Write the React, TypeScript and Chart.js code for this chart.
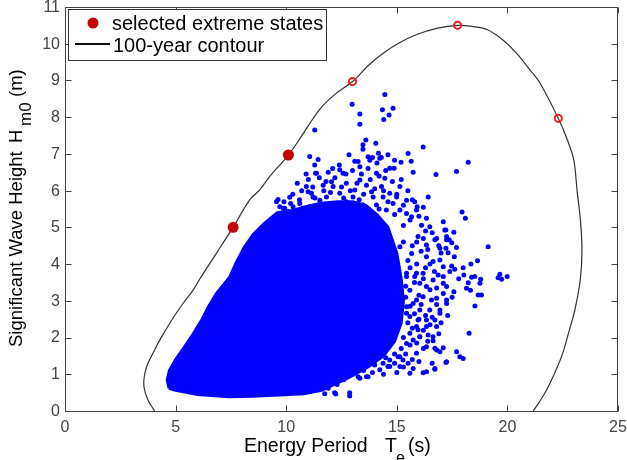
import { useEffect, useRef } from 'react';
import { Chart, registerables } from 'chart.js';

Chart.register(...registerables);

// 100-year environmental contour (energy period T_e vs significant wave height H_m0)
const contourT = [4.05, 3.75, 3.57, 3.6, 3.75, 4.0, 4.3, 4.8, 5.3, 5.8, 6.1, 6.85, 7.6, 8.35, 8.8, 9.25, 10.1, 10.6, 11.5, 12.2, 13.0, 13.7, 14.4, 15.1, 15.9, 16.8, 17.75, 18.4, 19.1, 19.8, 20.4, 21.0, 21.47, 22.3, 22.7, 23.0, 23.15, 23.3, 23.37, 23.3, 23.05, 22.8, 22.5, 22.15, 21.77, 21.45, 21.17];
const contourH = [0, 0.3, 0.66, 1.0, 1.3, 1.6, 1.95, 2.45, 2.9, 3.3, 3.6, 4.3, 5.0, 5.75, 6.02, 6.38, 6.97, 7.4, 8.2, 8.62, 8.97, 9.4, 9.75, 10.02, 10.25, 10.42, 10.5, 10.47, 10.38, 10.1, 9.75, 9.3, 8.93, 7.97, 7.4, 6.84, 6.0, 5.2, 4.4, 3.6, 2.75, 2.2, 1.57, 1.05, 0.57, 0.25, 0];

// Selected extreme states (filled) and remaining contour design points (open)
const selectedT = [7.6, 10.1];
const selectedH = [5.0, 6.97];
const candidateT = [13.0, 17.75, 22.3];
const candidateH = [8.97, 10.5, 7.97];

// Outline of the densely populated part of the hindcast sea states
const coreT = [4.7, 4.62, 4.72, 5.0, 5.35, 5.8, 6.2, 6.5, 6.85, 7.45, 7.75, 8.1, 8.5, 9.0, 9.6, 10.2, 10.8, 11.5, 12.3, 13.0, 13.6, 14.1, 14.6, 15.0, 15.2, 15.3, 15.2, 14.9, 14.4, 13.7, 12.8, 11.6, 10.8, 9.9, 8.5, 7.4, 6.0, 5.3, 4.95, 4.7];
const coreH = [0.62, 0.85, 1.1, 1.4, 1.7, 2.1, 2.5, 2.85, 3.2, 3.65, 4.05, 4.45, 4.8, 5.1, 5.4, 5.45, 5.55, 5.65, 5.7, 5.7, 5.6, 5.35, 5.0, 4.3, 3.6, 3.0, 2.4, 1.9, 1.5, 1.2, 0.9, 0.56, 0.47, 0.44, 0.4, 0.39, 0.45, 0.53, 0.57, 0.62];

// Individual sea states around the edge of the dense region
const stateT = [
  14.46, 12.98, 14.35, 14.83, 13.33, 14.65, 14.41, 13.33, 11.29, 16.19, 13.6, 13.47, 13.47, 14.05, 18.23, 17.7, 16.77, 17.95, 18.1, 15.51,
  15.65, 11.06, 11.44, 11.29, 12.84, 13.25, 13.33, 13.7, 13.78, 14.17, 14.23, 14.6, 14.9, 15.19, 14.88, 15.74, 15.81, 15.92, 17.1, 12.42,
  12.57, 11.33, 14.08, 14.68, 14.46, 16.42, 10.99, 10.76, 11.67, 12.05, 13.1, 13.86, 14.31, 15.14, 14.99, 15.44, 15.89, 17.17, 16.34, 16.49,
  15.67, 16.12, 15.96, 16.8, 17.25, 16.34, 16.95, 15.14, 15.67, 16.34, 16.64, 17.1, 15.44, 15.81, 17.1, 17.22, 17.58, 17.25, 17.37, 17.48,
  19.13, 17.22, 17.32, 18.65, 18.35, 17.48, 17.62, 19.66, 19.99, 19.58, 18.03, 18.38, 18.53, 18.79, 18.76, 18.23, 18.15, 17.1, 19.74, 18.33,
  18.83, 18.68, 18.53, 18.27, 17.58, 17.25, 17.1, 17.25, 16.8, 16.95, 16.72, 16.8, 16.34, 16.42, 16.64, 16.04, 16.72, 17.1, 16.95, 17.7,
  17.85, 18.0, 17.22, 16.72, 16.34, 16.19, 15.59, 15.74, 15.28, 15.51, 15.06, 14.6, 14.23, 13.7, 13.33, 12.87, 12.19, 11.74, 15.96, 15.96,
  15.74, 15.59, 15.44, 15.89, 16.49, 16.57, 16.34, 16.64, 16.19, 16.95, 16.72, 16.87, 17.25, 16.95, 16.64, 16.34, 16.8, 17.25, 16.72, 15.14,
  14.68, 13.63, 13.25, 12.24, 12.87, 9.63, 10.16, 9.86, 10.08, 9.71, 9.1, 8.95, 8.65, 8.35, 8.12, 8.8, 10.91, 11.14, 11.37, 9.56,
  9.71, 9.93, 10.16, 10.31, 10.61, 10.84, 11.29, 12.12, 12.42, 12.72, 13.02, 13.33, 13.63, 13.93, 14.38, 14.68, 14.83, 15.14, 15.44, 14.53,
  14.08, 13.47, 12.72, 12.27, 11.82, 11.52, 11.21, 11.06, 15.44, 15.89, 16.04, 15.59, 16.19, 15.74, 16.04, 15.44, 16.34, 15.89, 15.59, 16.04,
  15.44, 15.89, 15.14, 14.68, 14.38,
  10.3, 10.5, 10.7, 11.0, 11.2, 11.5, 11.7, 11.9, 12.0, 12.2, 12.4, 12.5, 12.7, 12.9, 13.0, 13.2, 13.4, 13.5, 13.7, 13.8,
  14.0, 14.1, 14.2, 14.4, 14.5, 14.6, 14.8, 15.0, 15.2, 15.3, 15.5, 15.6, 15.7, 16.0, 16.2, 16.3, 10.6, 11.3, 12.6, 13.3,
  14.2, 14.9, 15.3, 11.8, 12.1, 13.1, 13.9, 10.9, 14.3, 9.9, 10.2, 10.4,
  15.3, 15.5, 15.7, 15.9, 16.1, 16.3, 15.4, 15.6, 15.8, 16.0, 16.2, 16.5, 16.7, 15.4, 15.6, 15.8, 16.1, 16.3, 16.6, 16.8,
  15.5, 15.7, 16.0, 16.2, 16.5, 15.3, 15.6, 15.9, 16.2, 16.4, 15.2, 15.4, 15.7, 16.0, 14.9, 14.5, 14.9, 14.0, 13.5, 13.0,
  12.6, 12.3, 11.9, 13.9, 14.4, 15.3, 15.0, 16.6, 16.9, 17.0, 17.3, 17.4, 17.6, 16.8, 16.5, 16.9, 16.2, 16.6, 17.0, 17.7,
  17.8, 17.5, 18.0, 15.9, 16.4,
];
const stateH = [
  8.62, 8.35, 8.2, 8.24, 8.09, 8.06, 7.94, 7.81, 7.65, 7.19, 7.38, 7.25, 7.13, 7.29, 6.77, 6.52, 6.44, 5.42, 5.25, 7.01,
  6.8, 6.93, 6.85, 6.7, 6.98, 6.79, 6.65, 6.92, 6.83, 7.02, 6.88, 6.98, 6.83, 6.77, 6.61, 6.5, 5.7, 5.56, 5.15, 6.57,
  6.47, 6.47, 6.47, 6.61, 6.34, 5.83, 5.97, 5.52, 6.15, 6.24, 6.02, 5.97, 6.11, 6.11, 5.83, 5.74, 5.47, 4.93, 5.25, 5.02,
  5.29, 5.06, 4.75, 4.7, 4.66, 4.52, 4.43, 4.47, 4.29, 4.2, 4.07, 3.93, 3.75, 3.66, 3.66, 4.93, 4.87, 4.75, 4.66, 4.58,
  4.47, 4.43, 4.31, 4.09, 4.0, 3.95, 3.86, 3.72, 3.66, 3.63, 3.7, 3.64, 3.66, 3.59, 3.48, 3.49, 3.34, 3.48, 3.59, 3.29,
  3.16, 3.16, 2.86, 2.12, 3.25, 3.39, 3.2, 3.02, 3.07, 2.75, 2.48, 2.3, 2.3, 2.07, 1.91, 2.02, 1.71, 1.72, 1.61, 1.61,
  1.48, 1.43, 1.32, 1.16, 1.07, 1.04, 1.03, 1.16, 1.39, 1.3, 1.48, 1.21, 1.12, 0.93, 0.89, 0.5, 0.5, 0.47, 2.48, 2.21,
  1.93, 2.57, 2.84, 3.02, 2.75, 3.02, 3.39, 3.57, 3.75, 4.11, 4.66, 3.7, 2.93, 2.66, 2.02, 1.75, 1.66, 1.34, 1.14, 1.21,
  1.21, 0.93, 0.93, 0.46, 0.41, 5.76, 5.82, 5.52, 5.43, 5.34, 5.02, 4.84, 4.66, 4.29, 4.16, 4.47, 6.11, 5.93, 6.47, 5.7,
  5.56, 5.52, 5.38, 5.56, 5.65, 5.38, 5.47, 6.11, 5.93, 6.2, 5.83, 6.29, 6.15, 5.83, 5.83, 5.93, 5.65, 5.47, 5.38, 5.47,
  5.61, 5.61, 5.7, 5.65, 5.83, 5.74, 5.83, 5.56, 3.66, 3.75, 3.48, 3.29, 3.11, 2.93, 2.75, 2.66, 2.48, 2.3, 2.12, 2.02,
  1.84, 1.57, 1.48, 1.39, 1.3,
  5.9, 6.2, 6.0, 6.3, 6.1, 6.35, 6.0, 6.5, 5.95, 6.35, 6.7, 6.1, 6.45, 6.0, 6.55, 6.2, 6.45, 5.9, 6.6, 6.3,
  6.05, 6.75, 6.4, 6.0, 6.55, 5.7, 6.25, 5.9, 6.3, 5.6, 6.0, 5.2, 5.75, 5.3, 5.55, 4.9, 5.75, 5.8, 5.8, 5.75,
  5.5, 5.35, 5.05, 6.25, 6.6, 6.8, 6.9, 6.45, 6.9, 5.7, 5.65, 5.45,
  4.6, 4.1, 4.5, 4.0, 4.35, 3.9, 3.4, 3.9, 3.5, 3.15, 3.6, 3.3, 3.8, 3.1, 2.85, 2.65, 2.9, 2.6, 2.55, 2.9,
  2.4, 2.25, 2.5, 2.2, 2.35, 2.0, 1.8, 1.85, 1.7, 1.9, 1.7, 1.55, 1.4, 1.35, 1.55, 1.45, 1.3, 1.25, 1.1, 1.0,
  0.85, 0.72, 0.62, 1.05, 1.0, 1.2, 1.05, 1.3, 2.1, 2.4, 2.6, 3.8, 4.2, 3.35, 4.0, 4.5, 4.7, 4.85, 4.3, 4.45,
  3.6, 3.1, 3.9, 4.6, 4.4,
];

const xTicks = [0, 5, 10, 15, 20, 25];
const yTicks = [0, 1, 2, 3, 4, 5, 6, 7, 8, 9, 10, 11];

const FONT = '"Liberation Sans", Arial, Helvetica, sans-serif';
const pairs = (xs: number[], ys: number[]) => xs.map((x, i) => ({ x, y: ys[i] }));

// Box, inward tick marks, tick labels, axis titles and legend in the usual MATLAB style
const decorations = {
  id: 'decorations',
  afterDraw(chart: any) {
    const { ctx, chartArea: a, scales } = chart;
    const L = Math.round(a.left) + 0.5;
    const R = Math.round(a.right) - 0.5;
    const T = Math.round(a.top) + 0.5;
    const B = Math.round(a.bottom) + 0.5;
    ctx.save();
    ctx.strokeStyle = '#444';
    ctx.lineWidth = 1;
    ctx.strokeRect(L, T, R - L, B - T);
    const tl = 6;
    ctx.beginPath();
    xTicks.forEach((v) => {
      const px = Math.round(scales.x.getPixelForValue(v)) + 0.5;
      ctx.moveTo(px, B); ctx.lineTo(px, B - tl);
      ctx.moveTo(px, T); ctx.lineTo(px, T + tl);
    });
    yTicks.forEach((v) => {
      const py = Math.round(scales.y.getPixelForValue(v)) + 0.5;
      ctx.moveTo(L, py); ctx.lineTo(L + tl, py);
      ctx.moveTo(R, py); ctx.lineTo(R - tl, py);
    });
    ctx.stroke();

    // tick labels
    ctx.fillStyle = '#444';
    ctx.font = `16px ${FONT}`;
    ctx.textAlign = 'center';
    ctx.textBaseline = 'alphabetic';
    xTicks.forEach((v) => {
      ctx.fillText(String(v), scales.x.getPixelForValue(v), 432);
    });
    ctx.textAlign = 'right';
    ctx.textBaseline = 'middle';
    yTicks.forEach((v) => {
      ctx.fillText(String(v), 60, scales.y.getPixelForValue(v) + 0.5);
    });

    // x-axis title
    ctx.fillStyle = '#000';
    ctx.textBaseline = 'alphabetic';
    ctx.textAlign = 'left';
    ctx.font = `19.5px ${FONT}`;
    ctx.fillText('Energy Period', 244, 452);
    ctx.fillText('T', 385, 452);
    ctx.fillText('(s)', 408, 452);
    ctx.font = `16px ${FONT}`;
    ctx.fillText('e', 396, 463);

    // y-axis title
    ctx.save();
    ctx.translate(21.5, 0);
    ctx.rotate(-Math.PI / 2);
    ctx.font = `18.5px ${FONT}`;
    ctx.fillText('Significant Wave Height', -347, 0);
    ctx.fillText('H', -143, 0);
    ctx.fillText('(m)', -97, 0);
    ctx.font = `17px ${FONT}`;
    ctx.fillText('m0', -126, 9);
    ctx.restore();

    // legend
    ctx.fillStyle = '#fff';
    ctx.fillRect(68.5, 9.5, 258, 51);
    ctx.strokeStyle = '#333';
    ctx.strokeRect(68.5, 9.5, 258, 51);
    ctx.fillStyle = '#c80000';
    ctx.beginPath();
    ctx.arc(93, 23, 5.5, 0, Math.PI * 2);
    ctx.fill();
    ctx.strokeStyle = '#111';
    ctx.lineWidth = 2;
    ctx.beginPath();
    ctx.moveTo(75, 44); ctx.lineTo(110, 44);
    ctx.stroke();
    ctx.fillStyle = '#000';
    ctx.font = `20px ${FONT}`;
    ctx.fillText('selected extreme states', 112, 29.5);
    ctx.fillText('100-year contour', 113, 51.5);
    ctx.restore();
  },
};

export default function App() {
  const canvasRef = useRef<HTMLCanvasElement | null>(null);

  useEffect(() => {
    if (!canvasRef.current) return;
    const chart = new Chart(canvasRef.current, {
      type: 'scatter',
      data: {
        datasets: [
          {
            label: 'selected extreme states',
            data: pairs(selectedT, selectedH),
            pointRadius: 5.5,
            pointBackgroundColor: '#c80000',
            pointBorderWidth: 0,
            order: 0,
          },
          {
            label: 'contour points',
            data: pairs(candidateT, candidateH),
            pointRadius: 3.6,
            pointBackgroundColor: 'rgba(0,0,0,0)',
            pointBorderColor: '#f02020',
            pointBorderWidth: 2,
            order: 0,
          },
          {
            label: '100-year contour',
            data: pairs(contourT, contourH),
            showLine: true,
            borderColor: '#333',
            borderWidth: 1.2,
            tension: 0.35,
            pointRadius: 0,
            fill: false,
            order: 1,
          },
          {
            label: 'sea states',
            data: pairs(stateT, stateH),
            pointRadius: 2.5,
            pointBackgroundColor: '#0000ff',
            pointBorderWidth: 0,
            order: 2,
          },
          {
            label: 'sea states (dense)',
            data: pairs(coreT, coreH),
            showLine: true,
            borderColor: '#0000ff',
            borderWidth: 3,
            backgroundColor: '#0000ff',
            fill: 'shape',
            tension: 0,
            pointRadius: 0,
            order: 3,
          },
        ],
      },
      options: {
        animation: false,
        responsive: false,
        devicePixelRatio: 1,
        layout: { padding: { top: 7, right: 9, left: 0, bottom: 0 } },
        plugins: { legend: { display: false }, tooltip: { enabled: false } },
        scales: {
          x: {
            type: 'linear',
            min: 0,
            max: 25,
            grid: { display: false, drawTicks: false },
            border: { display: false },
            ticks: { display: false, stepSize: 5 },
            afterFit: (s: any) => { s.height = 49; },
          },
          y: {
            type: 'linear',
            min: 0,
            max: 11,
            grid: { display: false, drawTicks: false },
            border: { display: false },
            ticks: { display: false, stepSize: 1 },
            afterFit: (s: any) => { s.width = 65; },
          },
        },
      },
      plugins: [decorations],
    });
    return () => chart.destroy();
  }, []);

  return (
    <div style={{ position: 'fixed', left: 0, top: 0, width: 627, height: 460, background: '#fff' }}>
      <canvas ref={canvasRef} width={627} height={460} />
    </div>
  );
}
